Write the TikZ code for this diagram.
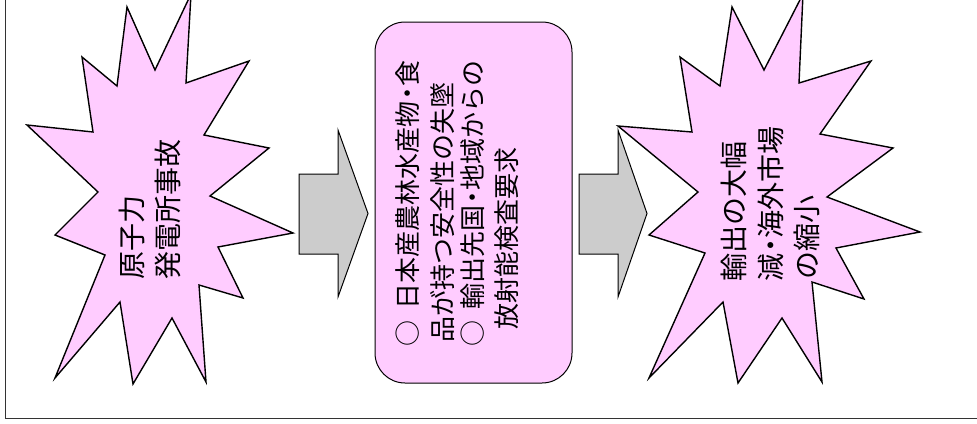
\documentclass[tikz,border=0pt]{standalone}
\usepackage{fontspec}
\newfontfamily\cjk{Noto Sans CJK JP}
\definecolor{burstpink}{HTML}{FFCCFF}
\definecolor{arrowgray}{HTML}{CCCCCC}
\newcommand{\nkg}{\kern-0.22em・\kern-0.22em}
\begin{document}
\begin{tikzpicture}[x=1pt,y=-1pt,
  burst/.style={fill=burstpink,draw=black,line width=1.4pt,line join=miter},
  blockarrow/.style={fill=arrowgray,draw=black,line width=1pt},
  bursttext/.style={font=\cjk\fontsize{28}{28}\selectfont,rotate=90,anchor=west,inner sep=0pt},
  boxtext/.style={font=\cjk\fontsize{26}{26}\selectfont,rotate=90,anchor=west,inner sep=0pt},
  frameline/.style={draw=black!80,line width=1pt},
  infobox/.style={draw=black,fill=burstpink,rounded corners=30pt,line width=1pt,inner sep=0pt}]
\useasboundingbox (0,0) rectangle (977,423);
\begin{scope}
\clip (0,0) rectangle (977,423);
\draw[frameline] (5,-2) -- (5,418) -- (979,418);
% starburst 1
\path[burst] (127,7) -- (155,70) -- (191,-6) -- (186,83) -- (249,61) -- (204,135)
  -- (269,148) -- (210,196) -- (293,233) -- (218,247) -- (243,298) -- (199,285)
  -- (206,382) -- (172,318) -- (133,384) -- (120,302) -- (55,378) -- (105,255)
  -- (55,235) -- (98,192) -- (27,125) -- (93,132) -- (82,57) -- (117,86) -- cycle;
% starburst 2
\path[burst] (732,7) -- (764,70) -- (803,-6) -- (799,83) -- (871,61) -- (820,134)
  -- (893,148) -- (827,197) -- (920,232) -- (836,248) -- (864,299) -- (812,282)
  -- (822,382) -- (782,318) -- (738,383) -- (723,302) -- (649,378) -- (705,253)
  -- (649,235) -- (698,192) -- (618,126) -- (692,132) -- (680,57) -- (720,86) -- cycle;
\end{scope}
% block arrows
\path[blockarrow] (299,174) -- (338,174) -- (338,130) -- (368,213.5) -- (338,297)
  -- (338,254) -- (299,254) -- cycle;
\path[blockarrow] (579,174) -- (618,174) -- (618,130) -- (647,213.5) -- (618,297)
  -- (618,254) -- (579,254) -- cycle;
% central box
\node[infobox,minimum width=197pt,minimum height=361pt] (box) at (473.5,202.5) {};
% texts
\node[bursttext] (t1a) at (132,280) {原子力};
\node[bursttext] (t1b) at (168,280) {発電所事故};
\node[boxtext] (b1) at (408,347) {○\hspace{0.45em}日本産農林水産物\nkg 食};
\node[boxtext] (b2) at (443,343) {品が持つ安全性の失墜};
\node[boxtext] (b3) at (473,347) {○\hspace{0.45em}輸出先国\nkg 地域からの};
\node[boxtext] (b4) at (507,330) {放射能検査要求};
\node[bursttext] (t2a) at (734,282) {輸出の大幅};
\node[bursttext] (t2b) at (771,282) {減\nkg 海外市場};
\node[bursttext] (t2c) at (807,280) {の縮小};
\end{tikzpicture}
\end{document}
